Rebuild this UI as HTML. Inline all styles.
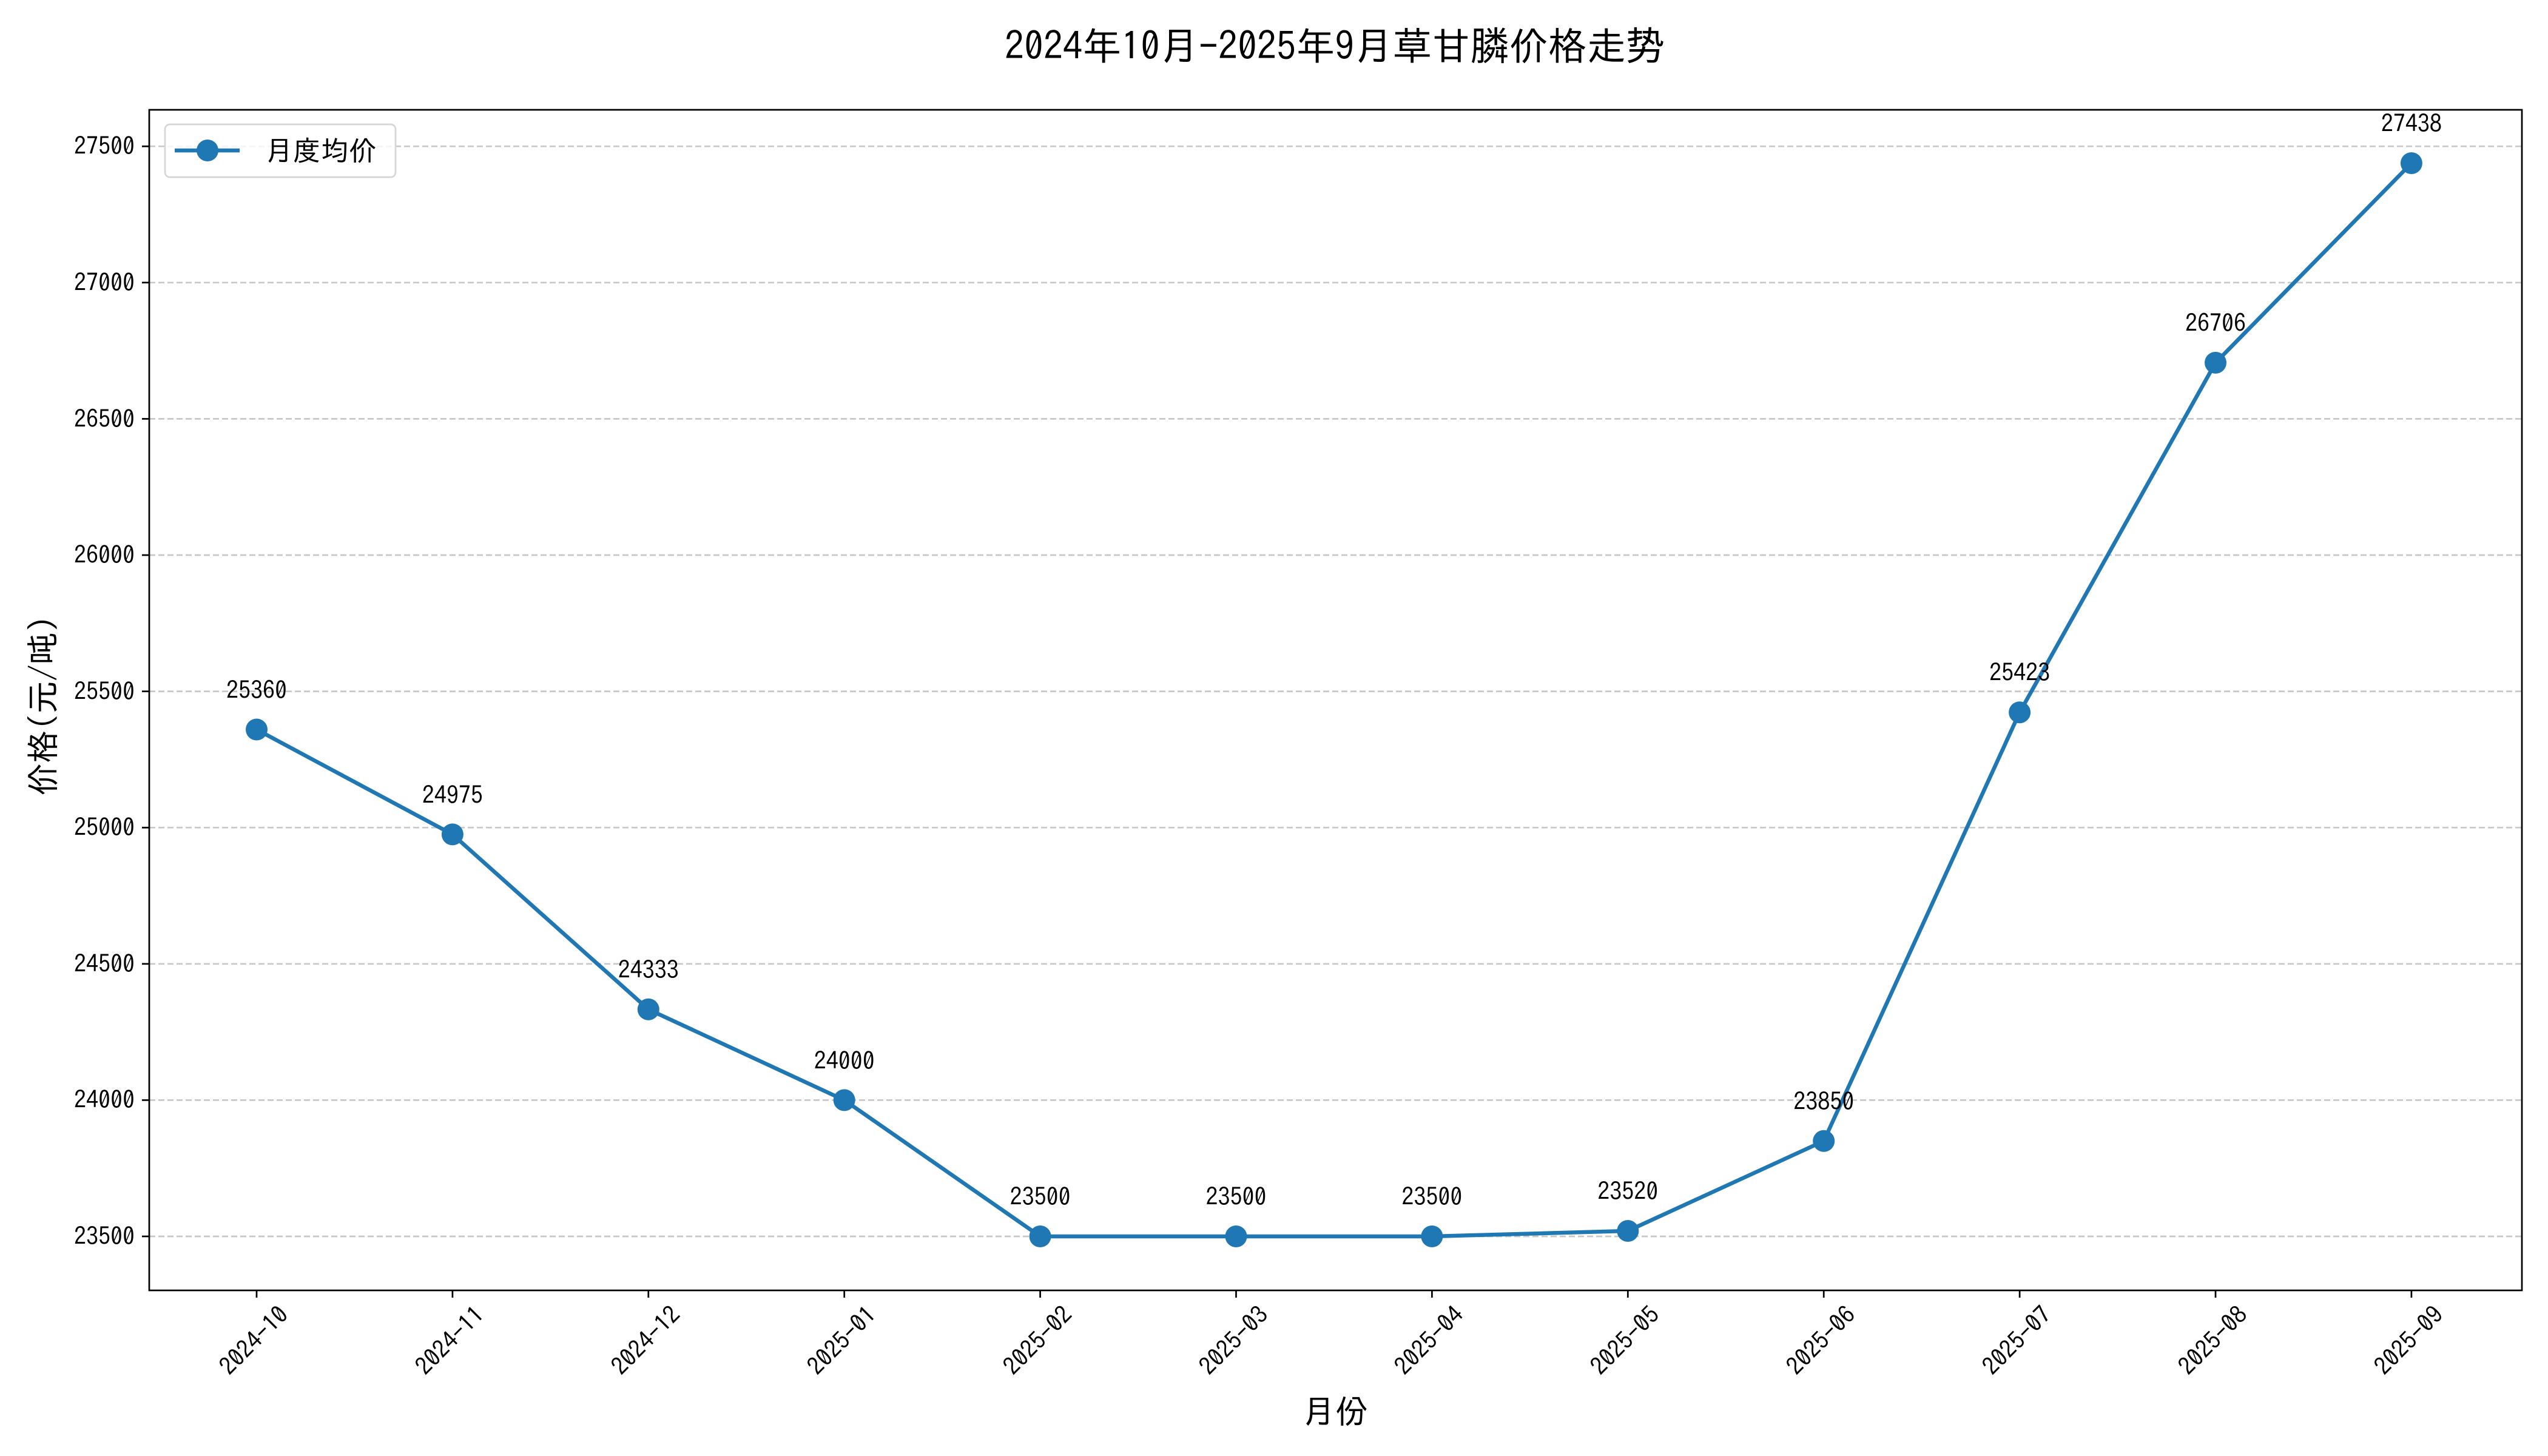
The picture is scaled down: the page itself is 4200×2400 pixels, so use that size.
<!DOCTYPE html>
<html><head><meta charset="utf-8"><style>
html,body{margin:0;padding:0;background:#fff;}
svg{display:block;}
text{font-family:"IPAGothic","WenQuanYi Zen Hei","Noto Sans CJK SC",sans-serif;fill:#000;}
</style></head><body>
<svg width="4200" height="2400" viewBox="0 0 4200 2400" xmlns="http://www.w3.org/2000/svg">
<rect width="4200" height="2400" fill="#fff"/>
<text x="2200" y="99" font-size="64" text-anchor="middle">2024年10月-2025年9月草甘膦价格走势</text>
<g stroke="#c8c8c8" stroke-width="2.7" stroke-dasharray="10,5">
<line x1="246" x2="4157" y1="2038" y2="2038"/>
<line x1="246" x2="4157" y1="1813.4" y2="1813.4"/>
<line x1="246" x2="4157" y1="1588.8" y2="1588.8"/>
<line x1="246" x2="4157" y1="1364.2" y2="1364.2"/>
<line x1="246" x2="4157" y1="1139.6" y2="1139.6"/>
<line x1="246" x2="4157" y1="915" y2="915"/>
<line x1="246" x2="4157" y1="690.4" y2="690.4"/>
<line x1="246" x2="4157" y1="465.8" y2="465.8"/>
<line x1="246" x2="4157" y1="241.2" y2="241.2"/>
</g>
<g stroke="#000" stroke-width="2.7">
<line x1="234" x2="246" y1="2038" y2="2038"/><line x1="234" x2="246" y1="1813.4" y2="1813.4"/><line x1="234" x2="246" y1="1588.8" y2="1588.8"/><line x1="234" x2="246" y1="1364.2" y2="1364.2"/><line x1="234" x2="246" y1="1139.6" y2="1139.6"/><line x1="234" x2="246" y1="915" y2="915"/><line x1="234" x2="246" y1="690.4" y2="690.4"/><line x1="234" x2="246" y1="465.8" y2="465.8"/><line x1="234" x2="246" y1="241.2" y2="241.2"/>
</g>
<g font-size="40" text-anchor="end">
<text x="222" y="2052">23500</text><text x="222" y="1827">24000</text><text x="222" y="1603">24500</text><text x="222" y="1378">25000</text><text x="222" y="1154">25500</text><text x="222" y="929">26000</text><text x="222" y="705">26500</text><text x="222" y="480">27000</text><text x="222" y="255">27500</text>
</g>
<g stroke="#000" stroke-width="2.7">
<line x1="423" x2="423" y1="2127" y2="2139"/><line x1="745.9" x2="745.9" y1="2127" y2="2139"/><line x1="1068.8" x2="1068.8" y1="2127" y2="2139"/><line x1="1391.7" x2="1391.7" y1="2127" y2="2139"/><line x1="1714.6" x2="1714.6" y1="2127" y2="2139"/><line x1="2037.5" x2="2037.5" y1="2127" y2="2139"/><line x1="2360.4" x2="2360.4" y1="2127" y2="2139"/><line x1="2683.3" x2="2683.3" y1="2127" y2="2139"/><line x1="3006.2" x2="3006.2" y1="2127" y2="2139"/><line x1="3329.1" x2="3329.1" y1="2127" y2="2139"/><line x1="3652" x2="3652" y1="2127" y2="2139"/><line x1="3974.9" x2="3974.9" y1="2127" y2="2139"/>
</g>
<g font-size="40" text-anchor="end">
<text transform="translate(478,2170) rotate(-45)">2024-10</text>
<text transform="translate(801,2170) rotate(-45)">2024-11</text>
<text transform="translate(1124,2170) rotate(-45)">2024-12</text>
<text transform="translate(1447,2170) rotate(-45)">2025-01</text>
<text transform="translate(1770,2170) rotate(-45)">2025-02</text>
<text transform="translate(2093,2170) rotate(-45)">2025-03</text>
<text transform="translate(2415,2170) rotate(-45)">2025-04</text>
<text transform="translate(2738,2170) rotate(-45)">2025-05</text>
<text transform="translate(3061,2170) rotate(-45)">2025-06</text>
<text transform="translate(3384,2170) rotate(-45)">2025-07</text>
<text transform="translate(3707,2170) rotate(-45)">2025-08</text>
<text transform="translate(4030,2170) rotate(-45)">2025-09</text>
</g>
<polyline fill="none" stroke="#1f77b4" stroke-width="6.5" stroke-linejoin="round" points="423,1202.5 745.9,1375.4 1068.8,1663.8 1391.7,1813.4 1714.6,2038 2037.5,2038 2360.4,2038 2683.3,2029 3006.2,1880.8 3329.1,1174.2 3652,597.9 3974.9,269"/>
<g fill="#1f77b4">
<circle cx="423" cy="1202.5" r="18"/><circle cx="745.9" cy="1375.4" r="18"/><circle cx="1068.8" cy="1663.8" r="18"/><circle cx="1391.7" cy="1813.4" r="18"/><circle cx="1714.6" cy="2038" r="18"/><circle cx="2037.5" cy="2038" r="18"/><circle cx="2360.4" cy="2038" r="18"/><circle cx="2683.3" cy="2029" r="18"/><circle cx="3006.2" cy="1880.8" r="18"/><circle cx="3329.1" cy="1174.2" r="18"/><circle cx="3652" cy="597.9" r="18"/><circle cx="3974.9" cy="269" r="18"/>
</g>
<g font-size="40" text-anchor="middle">
<text x="423" y="1152">25360</text>
<text x="745.9" y="1325">24975</text>
<text x="1068.8" y="1613">24333</text>
<text x="1391.7" y="1763">24000</text>
<text x="1714.6" y="1987">23500</text>
<text x="2037.5" y="1987">23500</text>
<text x="2360.4" y="1987">23500</text>
<text x="2683.3" y="1978">23520</text>
<text x="3006.2" y="1830">23850</text>
<text x="3329.1" y="1123">25423</text>
<text x="3652" y="547">26706</text>
<text x="3974.9" y="218">27438</text>
</g>
<rect x="246" y="181" width="3911" height="1946" fill="none" stroke="#000" stroke-width="2.7"/>
<rect x="272" y="205" width="380" height="87" rx="8" fill="#fff" fill-opacity="0.8" stroke="#d6d6d6" stroke-width="2.7"/>
<line x1="288" x2="395" y1="248" y2="248" stroke="#1f77b4" stroke-width="6.5"/>
<circle cx="342" cy="248" r="18" fill="#1f77b4"/>
<text x="437" y="265" font-size="46">月度均价</text>
<text x="2201" y="2346" font-size="54" text-anchor="middle">月份</text>
<text transform="translate(90,1163) rotate(-90)" font-size="54" text-anchor="middle">价格(元/吨)</text>
</svg>
</body></html>
